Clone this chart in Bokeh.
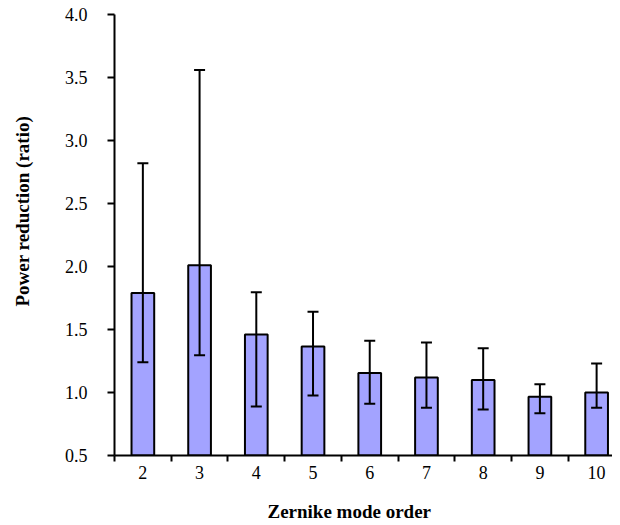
from bokeh.plotting import figure
from bokeh.models import (ColumnDataSource, Whisker, TeeHead, FixedTicker, Range1d,
                          PrintfTickFormatter)
from bokeh.embed import file_html
from bokeh.resources import INLINE

modes = [2, 3, 4, 5, 6, 7, 8, 9, 10]
means = [1.79, 2.01, 1.46, 1.365, 1.155, 1.12, 1.10, 0.967, 1.00]
err_upper = [2.82, 3.56, 1.795, 1.64, 1.41, 1.397, 1.352, 1.066, 1.23]
err_lower = [1.24, 1.296, 0.889, 0.976, 0.91, 0.878, 0.865, 0.836, 0.878]
y_ticks = [0.5, 1.0, 1.5, 2.0, 2.5, 3.0, 3.5, 4.0]
x_title = "Zernike mode order"
y_title = "Power reduction (ratio)"

src = ColumnDataSource(dict(x=modes, top=means, upper=err_upper, lower=err_lower))

FONT = "Liberation Serif"
NBSP = "\u00a0"

p = figure(width=612, height=524, output_backend="svg", toolbar_location=None,
           x_range=Range1d(1.5, 10.28), y_range=Range1d(0.5, 4.0),
           min_border_left=114, min_border_top=14, min_border_right=0,
           min_border_bottom=66)
p.outline_line_color = None
p.xgrid.visible = False
p.ygrid.visible = False
p.background_fill_color = "white"

p.vbar(x="x", top="top", bottom=0.5, width=0.4, source=src,
       fill_color="#A3A3FF", line_color="black", line_width=2)

w = Whisker(source=src, base="x", upper="upper", lower="lower",
            line_color="black", line_width=2, level="overlay",
            upper_head=TeeHead(size=11, line_color="black", line_width=2),
            lower_head=TeeHead(size=11, line_color="black", line_width=2))
p.add_layout(w)

# y axis
ya = p.yaxis[0]
ya.ticker = FixedTicker(ticks=y_ticks, minor_ticks=[])
ya.formatter = PrintfTickFormatter(format="%.1f")
ya.axis_line_width = 2
ya.axis_line_color = "black"
ya.major_tick_line_width = 2
ya.major_tick_out = 7
ya.major_tick_in = 0
ya.minor_tick_line_color = None
ya.major_label_standoff = 20
ya.major_label_text_font = FONT
ya.major_label_text_font_size = "18px"
ya.major_label_text_color = "black"
ya.axis_label = NBSP * 10 + y_title
ya.axis_label_text_font = FONT
ya.axis_label_text_font_style = "bold"
ya.axis_label_text_font_size = "19px"
ya.axis_label_text_color = "black"
ya.axis_label_standoff = 29

# x axis
xa = p.xaxis[0]
xa.ticker = FixedTicker(ticks=modes, minor_ticks=[m - 0.5 for m in modes] + [modes[-1] + 0.5])
xa.axis_line_width = 2
xa.axis_line_color = "black"
xa.major_tick_line_color = None
xa.major_tick_out = 0
xa.major_tick_in = 0
xa.minor_tick_line_width = 2
xa.minor_tick_line_color = "black"
xa.minor_tick_out = 6
xa.minor_tick_in = 0
xa.major_label_standoff = 4
xa.major_label_text_font = FONT
xa.major_label_text_font_size = "18px"
xa.major_label_text_color = "black"
xa.axis_label = x_title + NBSP * 6
xa.axis_label_text_font = FONT
xa.axis_label_text_font_style = "bold"
xa.axis_label_text_font_size = "19px"
xa.axis_label_text_color = "black"
xa.axis_label_standoff = 19

open("out.html", "w").write(file_html(p, INLINE))
